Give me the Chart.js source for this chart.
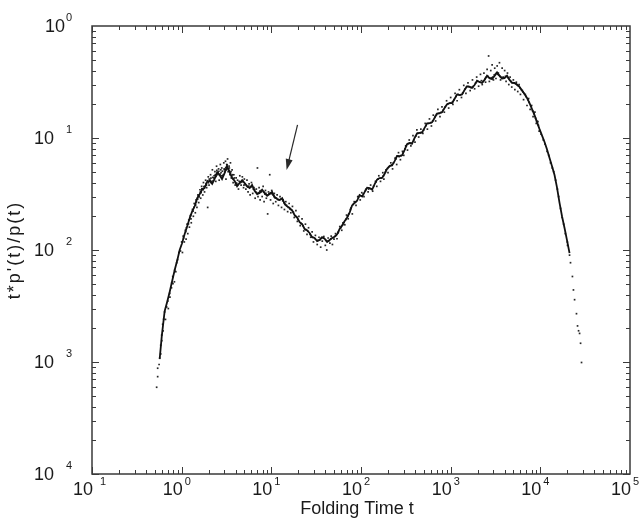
<!DOCTYPE html>
<html lang="en">
<head>
    <meta charset="UTF-8">
    <title>Folding time distribution</title>
    <style>
        body { margin: 0; background: #ffffff; }
        #wrap { width: 642px; height: 525px; }
    </style>
    <script src="https://cdn.jsdelivr.net/npm/chart.js"></script>
</head>
<body>
    <div id="wrap"><canvas id="myChart" width="642" height="525"></canvas></div>

    <script>
        // axis ranges and labels
        const xRange = [0.1, 1e5];
        const yRange = [1e-4, 1];
        const xTickExps = [-1, 0, 1, 2, 3, 4, 5];
        const yTickExps = [0, -1, -2, -3, -4];
        const xTitle = 'Folding Time t';
        const yTitle = "t*p'(t)/p(t)";

        // arrow pointing at the shoulder (tail, tip) in data units
        const arrowTail = [19.6, 0.131];
        const arrowTip = [14.8, 0.0518];

        // running curve [t, value]
        const curve = [
            [0.569,0.00107],[0.60,0.0017],[0.646,0.00284],[0.69,0.00345],[0.735,0.00422],[0.78,0.0052],
            [0.836,0.00663],[0.89,0.008],[0.95,0.01],[1.01,0.0115],[1.08,0.0139],[1.15,0.0162],
            [1.23,0.0193],[1.31,0.0221],[1.40,0.0247],[1.49,0.029],[1.59,0.0316],[1.70,0.035],
            [1.80,0.0357],[1.92,0.0405],[2.05,0.0414],[2.19,0.039],[2.33,0.0431],[2.49,0.0495],
            [2.65,0.0467],[2.82,0.043],[3.01,0.0485],[3.2,0.056],[3.43,0.0498],[3.65,0.044],
            [3.90,0.0414],[4.15,0.037],[4.43,0.0396],[4.73,0.042],[5.04,0.0396],[5.38,0.037],
            [5.73,0.0357],[6.1,0.038],[6.51,0.0337],[6.95,0.0315],[7.41,0.0322],[7.9,0.0345],
            [8.42,0.0322],[8.98,0.0305],[9.57,0.0316],[10.2,0.033],[10.9,0.0297],[11.6,0.0285],
            [12.4,0.0279],[13.2,0.029],[14.1,0.0258],[15.0,0.0245],[16.0,0.0237],[17.1,0.0225],
            [18.2,0.0205],[19.4,0.0195],[20.7,0.0177],[22.1,0.017],[23.5,0.0154],[25.0,0.015],
            [26.7,0.0142],[28.5,0.013],[30.4,0.0128],[32.4,0.012],[34.5,0.0123],[36.8,0.013],
            [39.3,0.0126],[41.9,0.0118],[44.7,0.0123],[47.6,0.0128],[50.8,0.0131],[54.1,0.0138],
            [57.7,0.0154],[61.5,0.0165],[65.6,0.0181],[70,0.0195],[74.6,0.0215],[79.5,0.025],
            [84.8,0.0263],[90.4,0.0275],[96.4,0.031],[103,0.03],[110,0.033],[117,0.036],
            [125,0.0357],[133,0.0345],[142,0.0388],[151,0.0425],[161,0.0439],[172,0.044],
            [183,0.0477],[195,0.053],[208,0.0563],[222,0.057],[237,0.0622],[252,0.069],
            [269,0.0688],[287,0.07],[306,0.0781],[326,0.088],[348,0.0902],[371,0.089],
            [396,0.1],[422,0.11],[450,0.111],[480,0.112],[512,0.123],[546,0.135],
            [582,0.136],[620,0.138],[661,0.151],[705,0.165],[752,0.167],[802,0.17],
            [855,0.185],[912,0.2],[972,0.205],[1036,0.205],[1104,0.223],[1178,0.245],
            [1256,0.242],[1339,0.245],[1428,0.268],[1523,0.29],[1624,0.286],[1731,0.28],
            [1846,0.297],[1968,0.325],[2099,0.316],[2238,0.31],[2387,0.33],[2545,0.36],
            [2714,0.343],[2894,0.335],[3085,0.358],[3290,0.385],[3508,0.358],[3740,0.34],
            [3989,0.343],[4253,0.36],[4535,0.33],[4836,0.31],[5156,0.31],[5498,0.3],
            [5862,0.286],[6250,0.265],[6666,0.247],[7100,0.228],[7579,0.205],[8100,0.18],
            [8617,0.16],[9200,0.138],[9797,0.12],[10450,0.105],[11140,0.0921],[11880,0.079],
            [12666,0.0662],[13500,0.056],[14400,0.0467],[15350,0.036],[16374,0.0263],[17450,0.02],
            [18617,0.0157],[19850,0.0122],[21167,0.00938]
        ];

        // raw estimates, one dot per sampled time [t, value]
        const dotsLeftTail = [
            [0.526,0.000595],[0.54,0.00074],[0.54,0.00088],[0.56,0.00095],[0.569,0.00108],[0.584,0.00118],
            [0.584,0.00141],[0.599,0.00174],[0.60,0.00155],[0.614,0.00217],[0.62,0.0019],[0.63,0.00241],
            [0.646,0.0028],[0.66,0.0024],[0.68,0.0031],[0.70,0.0035],[0.71,0.003],[0.735,0.0041],
            [0.74,0.0038],[0.77,0.0046],[0.775,0.0051],[0.795,0.0058],[0.80,0.005],[0.83,0.0052],
            [0.836,0.0066],[0.86,0.0064],[0.88,0.0077],[0.90,0.0082],[0.93,0.0095]
        ];
        const dotsFirstPeak = [
            [0.97,0.0098],[1.00,0.0118],[1.02,0.0095],[1.05,0.0128],[1.07,0.0118],[1.10,0.015],
            [1.12,0.0125],[1.15,0.017],[1.17,0.014],[1.20,0.0185],[1.22,0.016],[1.26,0.0205],
            [1.28,0.0175],[1.32,0.023],[1.35,0.02],[1.38,0.026],[1.42,0.0215],[1.45,0.028],
            [1.48,0.024],[1.52,0.031],[1.55,0.0265],[1.60,0.0345],[1.63,0.029],[1.67,0.037],
            [1.72,0.031],[1.75,0.04],[1.80,0.033],[1.85,0.042],[1.90,0.036],[1.95,0.024],
            [1.98,0.045],[2.02,0.038],[2.10,0.047],[2.15,0.04],[2.20,0.052],[2.28,0.044],
            [2.35,0.05],[2.40,0.041],[2.45,0.056],[2.52,0.047],[2.58,0.053],[2.62,0.042],
            [2.70,0.058],[2.75,0.049],[2.80,0.054],[2.88,0.046],[2.95,0.06],[3.00,0.052],
            [3.08,0.062],[3.12,0.043],[3.18,0.058],[3.25,0.065],[3.30,0.05],[3.38,0.056],
            [3.45,0.047],[3.50,0.06],[3.58,0.044],[3.65,0.052],[3.75,0.04],[3.82,0.047],
            [3.95,0.038],[4.05,0.044],[4.20,0.042],[4.30,0.035],[4.45,0.046],[4.60,0.038],
            [4.75,0.045],[4.90,0.036],[5.00,0.043]
        ];
        const dotsPlateau = [
            [5.2,0.035],[5.35,0.042],[5.5,0.033],[5.65,0.039],[5.8,0.031],[6.0,0.04],
            [6.2,0.032],[6.4,0.036],[6.6,0.029],[6.8,0.035],[7.0,0.054],[7.1,0.03],
            [7.3,0.036],[7.5,0.028],[7.7,0.034],[7.9,0.03],[8.1,0.037],[8.3,0.027],
            [8.6,0.034],[8.8,0.029],[9.1,0.021],[9.3,0.033],[9.6,0.047],[9.8,0.028],
            [10.1,0.034],[10.5,0.026],[10.8,0.032],[11.2,0.027],[11.6,0.031],[12.0,0.025],
            [12.5,0.03],[13.0,0.024],[13.5,0.028],[14.0,0.023],[14.5,0.027],[15.2,0.022],
            [15.8,0.026],[16.5,0.0215],[17.2,0.0245],[18.0,0.0195],[18.8,0.0225],[19.5,0.018],
            [20.3,0.02]
        ];
        const dotsValley = [
            [21,0.0165],[22,0.019],[23,0.0148],[24,0.017],[25,0.0138],[26,0.0158],
            [27.5,0.013],[28.5,0.0145],[29.5,0.0118],[31,0.0135],[32.5,0.0112],[34,0.013],
            [35.5,0.0106],[37,0.012],[38.5,0.0132],[40,0.011],[41.5,0.01],[43,0.0128],
            [45,0.0115],[46.5,0.0133],[48,0.0112],[50,0.0125],[52,0.014],[54,0.0126],
            [56,0.0145],[58,0.0162],[61,0.015],[63,0.0175],[66,0.0168],[69,0.0205],
            [72,0.019],[76,0.023],[80,0.021],[84,0.027],[88,0.025],[92,0.03]
        ];
        const dotsRise = [
            [98,0.028],[102,0.0325],[108,0.03],[114,0.035],[120,0.033],[128,0.038],
            [135,0.0335],[145,0.041],[150,0.037],[158,0.046],[165,0.041],[175,0.049],
            [180,0.043],[190,0.052],[200,0.049],[215,0.06],[225,0.053],[240,0.066],
            [250,0.058],[262,0.074],[275,0.064],[290,0.076],[300,0.07],[315,0.085],
            [330,0.078],[345,0.096],[360,0.085],[380,0.105],[400,0.092],[420,0.118],
            [440,0.102],[465,0.12],[490,0.11],[520,0.135],[550,0.12],[580,0.148],
            [610,0.128],[640,0.16],[680,0.142],[720,0.18],[760,0.155],[800,0.19],
            [850,0.17],[900,0.215],[950,0.185],[1000,0.23],[1060,0.2],[1120,0.25],
            [1180,0.215],[1250,0.27],[1320,0.23],[1400,0.295],[1480,0.25],[1560,0.31],
            [1650,0.265],[1750,0.33],[1850,0.275],[1950,0.35]
        ];
        const dotsSecondPeak = [
            [2050,0.29],[2150,0.37],[2250,0.3],[2350,0.38],[2450,0.315],[2550,0.41],
            [2650,0.54],[2700,0.32],[2800,0.4],[2900,0.45],[3000,0.33],[3100,0.42],
            [3200,0.34],[3300,0.44],[3400,0.38],[3500,0.47],[3600,0.33],[3750,0.42],
            [3850,0.35],[4000,0.4],[4150,0.32],[4300,0.38],[4450,0.3],[4600,0.35],
            [4800,0.285],[5000,0.33],[5200,0.27],[5400,0.315],[5600,0.26],[5800,0.3],
            [6000,0.245],[6300,0.265],[6500,0.22],[6800,0.245],[7100,0.195],[7400,0.225],
            [7700,0.18],[8000,0.195],[8300,0.155],[8700,0.17],[9000,0.135],[9400,0.14],
            [9700,0.115]
        ];
        const dotsRightTail = [
            [10200,0.108],[10800,0.096],[11300,0.088],[11900,0.076],[12400,0.07],[13000,0.06],
            [13600,0.054],[14100,0.05],[14800,0.042],[15500,0.035],[16000,0.03],[16800,0.0235],
            [17500,0.0195],[18200,0.017],[19000,0.014],[20000,0.0118],[20100,0.011],[21170,0.009],
            [21700,0.0077],[22800,0.0058],[23400,0.0044],[24100,0.0036],[25300,0.0027],[26000,0.0021],
            [26700,0.0019],[27400,0.0018],[28100,0.00147],[28800,0.00099]
        ];
        // dots that hug the curve and make the band look thick
        const bandFirstPeak = [
            [1.04,0.0133],[1.11,0.0146],[1.13,0.0158],[1.19,0.0171],[1.25,0.0201],[1.27,0.019],
            [1.34,0.0222],[1.37,0.024],[1.43,0.0252],[1.46,0.027],[1.51,0.0285],[1.54,0.0305],
            [1.57,0.0298],[1.62,0.033],[1.65,0.0325],[1.68,0.0352],[1.74,0.0345],[1.77,0.0368],
            [1.83,0.0372],[1.87,0.0392],[1.89,0.038],[1.94,0.0415],[1.99,0.0398],[2.03,0.043],
            [2.08,0.042],[2.12,0.0438],[2.17,0.041],[2.22,0.0445],[2.25,0.0415],[2.30,0.046],
            [2.37,0.047],[2.42,0.0455],[2.47,0.0515],[2.55,0.049],[2.60,0.0505],[2.68,0.0475],
            [2.73,0.052],[2.78,0.046],[2.85,0.0505],[2.91,0.047],[2.98,0.053],[3.05,0.05],
            [3.10,0.0545],[3.15,0.052],[3.22,0.0575],[3.28,0.053],[3.35,0.051],[3.40,0.054],
            [3.48,0.048],[3.55,0.05],[3.62,0.046],[3.70,0.047],[3.78,0.043],[3.86,0.044],
            [3.98,0.04],[4.10,0.0395],[4.25,0.0385],[4.38,0.041],[4.52,0.04],[4.68,0.0405],
            [4.82,0.041],[4.95,0.038]
        ];
        const bandPlateau = [
            [5.1,0.0385],[5.3,0.0375],[5.45,0.0365],[5.6,0.0372],[5.9,0.0365],[6.05,0.037],
            [6.3,0.035],[6.5,0.0345],[6.7,0.033],[6.9,0.0322],[7.2,0.0325],[7.45,0.0335],
            [7.65,0.0328],[7.85,0.0338],[8.2,0.033],[8.5,0.0315],[8.7,0.032],[9.0,0.031],
            [9.4,0.0318],[9.7,0.0322],[10.0,0.0318],[10.4,0.031],[10.7,0.03],[11.0,0.0292],
            [11.4,0.029],[11.8,0.0282],[12.2,0.028],[12.7,0.0284],[13.4,0.0275],[13.8,0.0265],
            [14.3,0.0255],[14.8,0.025],[15.5,0.024],[16.2,0.0232],[16.8,0.0228],[17.6,0.0218],
            [18.5,0.0202],[19.1,0.0198],[19.8,0.0188]
        ];
        const bandValley = [
            [21.5,0.0172],[22.6,0.0164],[24.2,0.0152],[25.6,0.0147],[27.0,0.0138],[29.0,0.013],
            [30.8,0.0126],[33.0,0.0122],[35.0,0.0124],[36.0,0.0127],[38.0,0.0128],[40.5,0.0122],
            [42.5,0.012],[44.0,0.0121],[46.0,0.0126],[49.0,0.0129],[51.5,0.0133],[53.0,0.0135],
            [55.5,0.0142],[59.5,0.0158],[62.5,0.0168],[64.5,0.0176],[68.0,0.0188],[71.0,0.02],
            [73.0,0.021],[77.5,0.0238],[82.0,0.0255],[86.5,0.0268],[94.0,0.0295]
        ];
        const bandRise = [
            [100,0.0305],[106,0.0318],[112,0.034],[122,0.035],[130,0.0352],[138,0.037],
            [147,0.0405],[155,0.043],[168,0.044],[178,0.046],[187,0.0495],[198,0.0535],
            [204,0.055],[212,0.0565],[220,0.0575],[230,0.06],[245,0.065],[258,0.069],
            [266,0.068],[280,0.0695],[295,0.074],[310,0.08],[320,0.085],[336,0.089],
            [355,0.09],[366,0.0895],[388,0.096],[408,0.104],[430,0.11],[458,0.111],
            [472,0.112],[500,0.118],[530,0.129],[565,0.135],[600,0.137],[630,0.142],
            [670,0.155],[695,0.162],[740,0.166],[780,0.169],[825,0.177],[870,0.19],
            [930,0.202],[990,0.205],[1050,0.21],[1090,0.22],[1150,0.235],[1210,0.245],
            [1280,0.243],[1360,0.252],[1450,0.275],[1500,0.285],[1590,0.288],[1680,0.283],
            [1780,0.288],[1900,0.31]
        ];
        const bandSecondPeak = [
            [2000,0.32],[2120,0.315],[2200,0.325],[2300,0.32],[2420,0.34],[2500,0.35],
            [2600,0.355],[2680,0.345],[2760,0.34],[2850,0.345],[2950,0.35],[3050,0.365],
            [3150,0.37],[3250,0.38],[3350,0.37],[3450,0.365],[3560,0.355],[3680,0.348],
            [3800,0.342],[3920,0.345],[4080,0.355],[4200,0.355],[4380,0.345],[4500,0.335],
            [4700,0.32],[4900,0.312],[5080,0.31],[5300,0.305],[5500,0.298],[5700,0.29],
            [5950,0.28],[6150,0.27],[6400,0.258],[6600,0.25],[6900,0.235],[7250,0.22],
            [7500,0.208],[7850,0.192],[8200,0.175],[8500,0.165],[8850,0.15],[9100,0.142],
            [9500,0.13]
        ];

        const toXY = arr => arr.map(p => ({ x: p[0], y: p[1] }));
        const allDots = [].concat(dotsLeftTail, dotsFirstPeak, dotsPlateau, dotsValley,
                                  dotsRise, dotsSecondPeak, dotsRightTail,
                                  bandFirstPeak, bandPlateau, bandValley, bandRise, bandSecondPeak);

        // frame, mirrored log ticks, labels, titles and the arrow
        const decorPlugin = {
            id: 'decor',
            afterDraw(chart) {
                const ctx = chart.ctx;
                const a = chart.chartArea;
                const xs = chart.scales.x, ys = chart.scales.y;
                ctx.save();
                ctx.strokeStyle = '#3a3a3a';
                ctx.lineWidth = 1.5;
                ctx.strokeRect(a.left, a.top, a.right - a.left, a.bottom - a.top);

                ctx.lineWidth = 1;
                ctx.beginPath();
                for (let d = -1; d <= 4; d++) {
                    for (let m = 1; m <= 9; m++) {
                        const v = m * Math.pow(10, d);
                        if (v < xRange[0] || v > xRange[1]) continue;
                        const px = Math.round(xs.getPixelForValue(v)) + 0.5;
                        const len = m === 1 ? 7 : 4;
                        ctx.moveTo(px, a.bottom); ctx.lineTo(px, a.bottom - len);
                        ctx.moveTo(px, a.top); ctx.lineTo(px, a.top + len);
                    }
                }
                for (let d = -4; d <= -1; d++) {
                    for (let m = 1; m <= 9; m++) {
                        const v = m * Math.pow(10, d);
                        const py = Math.round(ys.getPixelForValue(v)) + 0.5;
                        const len = m === 1 ? 7 : 4;
                        ctx.moveTo(a.left, py); ctx.lineTo(a.left + len, py);
                        ctx.moveTo(a.right, py); ctx.lineTo(a.right - len, py);
                    }
                }
                ctx.stroke();

                // tick labels: "10" plus exponent (the minus sign is blank in the original)
                ctx.fillStyle = '#1a1a1a';
                ctx.textBaseline = 'middle';
                xTickExps.forEach(e => {
                    const px = xs.getPixelForValue(Math.pow(10, e));
                    ctx.font = '18px "Liberation Sans", Arial, sans-serif';
                    ctx.textAlign = 'right';
                    ctx.fillText('10', px + 1, 490);
                    ctx.font = '11px "Liberation Sans", Arial, sans-serif';
                    ctx.textAlign = 'left';
                    ctx.fillText(String(Math.abs(e)), px + (e < 0 ? 8 : 3), 482);
                });
                yTickExps.forEach(e => {
                    const py = ys.getPixelForValue(Math.pow(10, e));
                    ctx.font = '11px "Liberation Sans", Arial, sans-serif';
                    ctx.textAlign = 'right';
                    ctx.fillText(String(Math.abs(e)), 72, py - 8);
                    ctx.font = '18px "Liberation Sans", Arial, sans-serif';
                    ctx.fillText('10', e < 0 ? 54 : 65, py + 1);
                });

                // axis titles
                ctx.font = '18px "Liberation Sans", Arial, sans-serif';
                ctx.textAlign = 'center';
                ctx.fillText(xTitle, 357, 509);
                ctx.save();
                ctx.translate(15, 250);
                ctx.rotate(-Math.PI / 2);
                ctx.letterSpacing = '2px';
                ctx.fillText(yTitle, 0, 0);
                ctx.restore();

                // arrow
                const x1 = xs.getPixelForValue(arrowTail[0]), y1 = ys.getPixelForValue(arrowTail[1]);
                const x2 = xs.getPixelForValue(arrowTip[0]), y2 = ys.getPixelForValue(arrowTip[1]);
                const ang = Math.atan2(y2 - y1, x2 - x1);
                ctx.strokeStyle = '#2a2a2a';
                ctx.lineWidth = 1.2;
                ctx.beginPath();
                ctx.moveTo(x1, y1);
                ctx.lineTo(x2 - 8 * Math.cos(ang), y2 - 8 * Math.sin(ang));
                ctx.stroke();
                ctx.fillStyle = '#2a2a2a';
                ctx.beginPath();
                ctx.moveTo(x2, y2);
                ctx.lineTo(x2 - 11 * Math.cos(ang) + 3.5 * Math.sin(ang), y2 - 11 * Math.sin(ang) - 3.5 * Math.cos(ang));
                ctx.lineTo(x2 - 11 * Math.cos(ang) - 3.5 * Math.sin(ang), y2 - 11 * Math.sin(ang) + 3.5 * Math.cos(ang));
                ctx.closePath();
                ctx.fill();
                ctx.restore();
            }
        };

        const ctx = document.getElementById('myChart').getContext('2d');
        const myChart = new Chart(ctx, {
            type: 'scatter',
            data: {
                datasets: [
                    {
                        label: 'running curve',
                        data: toXY(curve),
                        showLine: true,
                        borderColor: '#111111',
                        borderWidth: 1.8,
                        pointRadius: 0,
                        order: 0
                    },
                    {
                        label: 'samples',
                        data: toXY(allDots),
                        pointStyle: 'rect',
                        pointRadius: 1.2,
                        borderWidth: 0,
                        backgroundColor: 'rgba(15, 15, 15, 0.9)',
                        order: 1
                    }
                ]
            },
            options: {
                responsive: false,
                animation: false,
                events: [],
                layout: { padding: { top: 26, right: 12, left: 0, bottom: 0 }, autoPadding: false },
                plugins: { legend: { display: false }, tooltip: { enabled: false } },
                scales: {
                    x: {
                        type: 'logarithmic',
                        min: xRange[0], max: xRange[1],
                        ticks: { display: false },
                        grid: { display: false },
                        border: { display: false },
                        afterFit: s => { s.height = 51; }
                    },
                    y: {
                        type: 'logarithmic',
                        min: yRange[0], max: yRange[1],
                        ticks: { display: false },
                        grid: { display: false },
                        border: { display: false },
                        afterFit: s => { s.width = 92; }
                    }
                }
            },
            plugins: [decorPlugin]
        });
    </script>
</body>
</html>
